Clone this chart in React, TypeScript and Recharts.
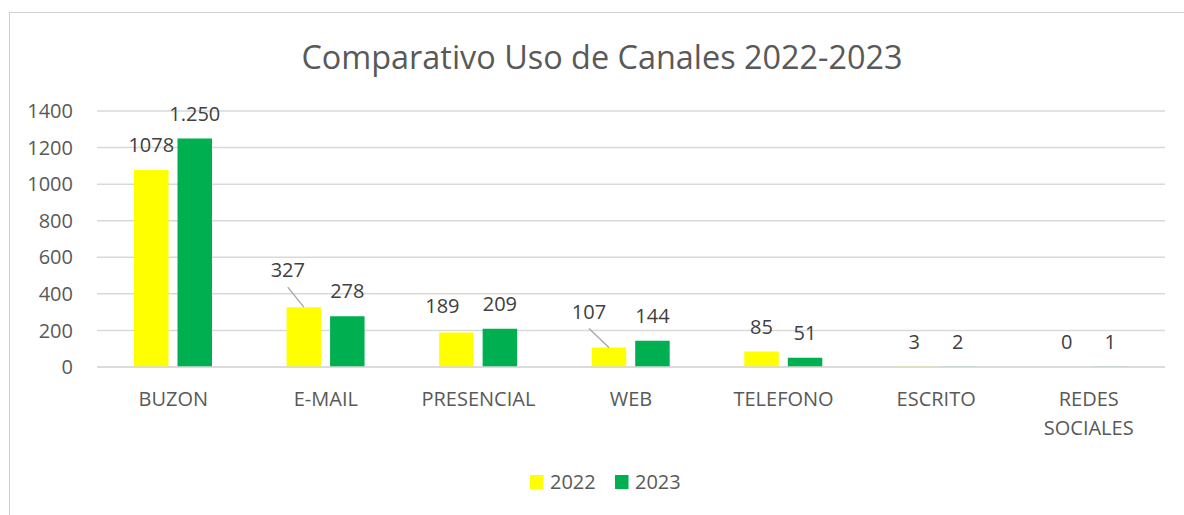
import React from "react";
import { BarChart, Bar, XAxis, YAxis, CartesianGrid, LabelList } from "recharts";

// Valores
const CANALES = ["BUZON", "E-MAIL", "PRESENCIAL", "WEB", "TELEFONO", "ESCRITO", "REDES SOCIALES"];
const USO_2022 = [1078, 327, 189, 107, 85, 3, 0];
const USO_2023 = [1250, 278, 209, 144, 51, 2, 1];
const Y_TICKS = [0, 200, 400, 600, 800, 1000, 1200, 1400];
const TITULO = "Comparativo Uso de Canales 2022-2023";

const FONT = "'Open Sans', sans-serif";
const AMARILLO = "#FFFF00";
const VERDE = "#00B050";
const GRIS_TEXTO = "#595959";
const GRIS_ETIQUETA = "#404040";
const GRIS_LINEA = "#D9D9D9";

// etiquetas de 2022 que Excel movió a mano (con línea guía)
const AJUSTE_2022: Record<string, { dx: number; dy: number; guia?: boolean }> = {
  "E-MAIL": { dx: -16, dy: -12, guia: true },
  PRESENCIAL: { dx: -14, dy: -2 },
  WEB: { dx: -20, dy: -11, guia: true },
};

const data = CANALES.map((canal, i) => ({
  canal,
  y2022: USO_2022[i],
  y2023: USO_2023[i],
}));

const conPuntos = (v: number) =>
  v >= 1000 ? `${Math.floor(v / 1000)}.${String(v % 1000).padStart(3, "0")}` : String(v);

const CanalTick = (props: any) => {
  const { x, y, payload } = props;
  const texto: string = payload.value;
  const lineas = texto.length > 12 ? texto.split(" ") : [texto];
  return (
    <text x={x} y={y} textAnchor="middle" fill={GRIS_TEXTO} fontSize={20} fontFamily={FONT}>
      {lineas.map((l, i) => (
        <tspan key={i} x={x} dy={i === 0 ? 39 : 29}>
          {l}
        </tspan>
      ))}
    </text>
  );
};

const etiqueta = (serie: "2022" | "2023") => (props: any) => {
  const { x, y, width, height, index } = props;
  const valores = serie === "2022" ? USO_2022 : USO_2023;
  const value = valores[index];
  const cx = Number(x) + Number(width) / 2;
  // tope de la barra (height puede venir negativo)
  const top = Math.min(Number(y), Number(y) + Number(height || 0));
  const ajuste = serie === "2022" ? AJUSTE_2022[CANALES[index]] : undefined;
  const lx = cx + (ajuste?.dx ?? 0);
  const ly = top - 25 + (ajuste?.dy ?? 0);
  return (
    <g>
      {ajuste?.guia && (
        <line x1={lx} y1={ly + 17} x2={cx} y2={top} stroke="#A6A6A6" strokeWidth={1.3} />
      )}
      <text
        x={lx}
        y={ly}
        dy="0.355em"
        textAnchor="middle"
        fill={GRIS_ETIQUETA}
        fontSize={20}
        fontFamily={FONT}
      >
        {serie === "2023" ? conPuntos(value) : String(value)}
      </text>
    </g>
  );
};

export default function App() {
  return (
    <div style={{ position: "relative", width: 1184, height: 515, overflow: "hidden", background: "#fff" }}>
      <style>{`body{margin:0}`}</style>
      <div
        style={{
          position: "absolute",
          left: 9,
          top: 12,
          width: 1300,
          height: 600,
          borderLeft: "1px solid #D0D0D0",
          borderTop: "1px solid #D0D0D0",
        }}
      />
      <div style={{ position: "absolute", left: 0, top: 0 }}>
        <BarChart
          width={1184}
          height={515}
          data={data}
          margin={{ top: 111, right: 19, bottom: 118, left: 17 }}
          barSize={34.5}
          barGap={9}
        >
          <CartesianGrid vertical={false} stroke={GRIS_LINEA} strokeWidth={1.5} />
          <XAxis
            dataKey="canal"
            height={30}
            tickLine={false}
            tickSize={0}
            tickMargin={0}
            axisLine={{ stroke: GRIS_LINEA, strokeWidth: 1.5 }}
            tick={<CanalTick />}
            interval={0}
          />
          <YAxis
            width={80}
            domain={[0, 1400]}
            ticks={Y_TICKS}
            axisLine={false}
            tickLine={false}
            tickSize={0}
            tickMargin={24}
            tick={{ fill: GRIS_TEXTO, fontSize: 20, fontFamily: FONT }}
          />
          <Bar dataKey="y2022" name="2022" fill={AMARILLO} minPointSize={0.01} isAnimationActive={false}>
            <LabelList dataKey="y2022" content={etiqueta("2022")} />
          </Bar>
          <Bar dataKey="y2023" name="2023" fill={VERDE} minPointSize={0.01} isAnimationActive={false}>
            <LabelList dataKey="y2023" content={etiqueta("2023")} />
          </Bar>
        </BarChart>
      </div>
      <svg
        width={1184}
        height={515}
        style={{ position: "absolute", left: 0, top: 0, pointerEvents: "none" }}
      >
        <text x={602} y={69} textAnchor="middle" fill={GRIS_TEXTO} fontSize={32.4} fontFamily={FONT}>
          {TITULO}
        </text>
        <rect x={530} y={475} width={13.5} height={14} fill={AMARILLO} />
        <text x={550} y={482} dy="0.355em" fill={GRIS_TEXTO} fontSize={20} fontFamily={FONT}>
          2022
        </text>
        <rect x={615} y={475} width={13.5} height={14} fill={VERDE} />
        <text x={635} y={482} dy="0.355em" fill={GRIS_TEXTO} fontSize={20} fontFamily={FONT}>
          2023
        </text>
      </svg>
    </div>
  );
}
